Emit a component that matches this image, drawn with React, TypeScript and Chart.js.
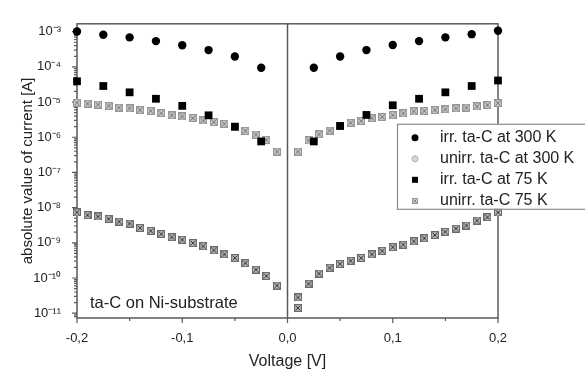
import React, { useEffect, useRef } from 'react';
import { Chart, registerables } from 'chart.js';

Chart.register(...registerables);

const FONT = '"Liberation Sans", Arial, Helvetica, sans-serif';
const TEXT = '#222';
const AXIS = '#5a5a5a';

// ---- data (voltage in V, |current| in A) ----
const voltsCoarse = [-0.2, -0.175, -0.15, -0.125, -0.1, -0.075, -0.05, -0.025, 0.025, 0.05, 0.075, 0.1, 0.125, 0.15, 0.175, 0.2];
const irr300K = [1.01e-3, 8.2e-4, 6.9e-4, 5.4e-4, 4.1e-4, 3.0e-4, 1.97e-4, 9.4e-5, 9.4e-5, 1.97e-4, 3.0e-4, 4.2e-4, 5.4e-4, 6.9e-4, 8.5e-4, 1.06e-3];
const irr75K = [3.9e-5, 2.86e-5, 1.89e-5, 1.24e-5, 7.8e-6, 4.2e-6, 2.0e-6, 7.6e-7, 7.6e-7, 2.09e-6, 4.3e-6, 8.1e-6, 1.24e-5, 1.89e-5, 2.86e-5, 4.1e-5];

const voltsFine = [
  -0.2, -0.19, -0.18, -0.17, -0.16, -0.15, -0.14, -0.13, -0.12, -0.11,
  -0.1, -0.09, -0.08, -0.07, -0.06, -0.05, -0.04, -0.03, -0.02, -0.01,
  0.01, 0.02, 0.03, 0.04, 0.05, 0.06, 0.07, 0.08, 0.09, 0.1,
  0.11, 0.12, 0.13, 0.14, 0.15, 0.16, 0.17, 0.18, 0.19, 0.2,
];
const unirr300K = [
  9.6e-6, 9.0e-6, 8.5e-6, 7.8e-6, 6.9e-6, 6.6e-6, 5.9e-6, 5.6e-6, 4.8e-6, 4.2e-6,
  3.9e-6, 3.5e-6, 3.0e-6, 2.7e-6, 2.4e-6, 1.96e-6, 1.52e-6, 1.19e-6, 8.4e-7, 3.9e-7,
  3.9e-7, 8.1e-7, 1.21e-6, 1.55e-6, 2.13e-6, 2.57e-6, 2.9e-6, 3.5e-6, 3.75e-6, 4.25e-6,
  4.8e-6, 5.4e-6, 5.6e-6, 5.9e-6, 6.2e-6, 6.6e-6, 7.0e-6, 7.5e-6, 8.2e-6, 9.3e-6,
];

const voltsLow = [
  -0.2, -0.19, -0.18, -0.17, -0.16, -0.15, -0.14, -0.13, -0.12, -0.11,
  -0.1, -0.09, -0.08, -0.07, -0.06, -0.05, -0.04, -0.03, -0.02, -0.01,
  0.01, 0.01, 0.02, 0.03, 0.04, 0.05, 0.06, 0.07, 0.08, 0.09, 0.1,
  0.11, 0.12, 0.13, 0.14, 0.15, 0.16, 0.17, 0.18, 0.19, 0.2,
];
const unirr75K = [
  7.3e-9, 6.1e-9, 5.6e-9, 4.8e-9, 4.0e-9, 3.5e-9, 2.65e-9, 2.19e-9, 1.77e-9, 1.44e-9,
  1.22e-9, 9.9e-10, 8.0e-10, 6.1e-10, 4.7e-10, 3.7e-10, 2.64e-10, 1.73e-10, 1.14e-10, 6.1e-11,
  2.8e-11, 1.4e-11, 6.9e-11, 1.34e-10, 1.96e-10, 2.52e-10, 3.1e-10, 3.7e-10, 4.7e-10, 5.9e-10, 7.5e-10,
  8.9e-10, 1.1e-9, 1.35e-9, 1.66e-9, 2.06e-9, 2.54e-9, 3.1e-9, 4.3e-9, 5.3e-9, 7.3e-9,
];

const seriesNames = ['irr. ta-C at 300 K', 'unirr. ta-C at 300 K', 'irr. ta-C at 75 K', 'unirr. ta-C 75 K'];

const xTickValues = [-0.2, -0.1, 0, 0.1, 0.2];
const xTickLabels = ['-0,2', '-0,1', '0,0', '0,1', '0,2'];
const xMinorTicks = [-0.15, -0.05, 0.05, 0.15];
const yDecades = [-11, -10, -9, -8, -7, -6, -5, -4, -3];
const yTickLabels = ['10⁻¹¹', '10⁻¹⁰', '10⁻⁹', '10⁻⁸', '10⁻⁷', '10⁻⁶', '10⁻⁵', '10⁻⁴', '10⁻³'];
const xTitle = 'Voltage [V]';
const yTitle = 'absolute value of current [A]';
const annotation = 'ta-C on Ni-substrate';
const X_MIN = -0.2;
const X_MAX = 0.2;
const Y_MIN = Math.pow(10, -11.137);
const Y_MAX = Math.pow(10, -2.776);

const pairs = (xs: number[], ys: number[]) => xs.map((x, i) => ({ x, y: ys[i] }));

function boxCross(size: number, fill: string, stroke: string, cross: string) {
  const c = document.createElement('canvas');
  c.width = size;
  c.height = size;
  const g = c.getContext('2d')!;
  g.fillStyle = fill;
  g.fillRect(0, 0, size, size);
  g.strokeStyle = stroke;
  g.lineWidth = 1;
  g.strokeRect(0.5, 0.5, size - 1, size - 1);
  g.beginPath();
  g.moveTo(1.5, 1.5);
  g.lineTo(size - 1.5, size - 1.5);
  g.moveTo(size - 1.5, 1.5);
  g.lineTo(1.5, size - 1.5);
  g.strokeStyle = cross;
  g.stroke();
  return c;
}

export default function App() {
  const ref = useRef<HTMLCanvasElement>(null);

  useEffect(() => {
    const canvas = ref.current;
    if (!canvas) return;
    const midMarker = boxCross(8, '#c4c4c4', '#959595', '#7a7a7a');
    const lowMarker = boxCross(8, '#b4b4b4', '#6a6a6a', '#3a3a3a');
    const legLow = boxCross(6, '#cfcfcf', '#999', '#888');

    const framePlugin = {
      id: 'frame',
      beforeDatasetsDraw(chart: any) {
        const { ctx, chartArea: a, scales } = chart;
        const x = scales.x;
        const y = scales.y;
        ctx.save();
        ctx.strokeStyle = AXIS;
        ctx.lineWidth = 1.5;
        ctx.strokeRect(a.left, a.top, a.right - a.left, a.bottom - a.top);
        const x0 = x.getPixelForValue(0);
        ctx.beginPath();
        ctx.moveTo(x0, a.top);
        ctx.lineTo(x0, a.bottom);
        ctx.stroke();
        ctx.lineWidth = 1.2;
        ctx.beginPath();
        for (const v of xTickValues) {
          const px = x.getPixelForValue(v);
          ctx.moveTo(px, a.bottom);
          ctx.lineTo(px, a.bottom + 5);
        }
        for (const v of xMinorTicks) {
          const px = x.getPixelForValue(v);
          ctx.moveTo(px, a.bottom);
          ctx.lineTo(px, a.bottom + 3);
        }
        for (let e = -12; e <= -2; e++) {
          for (let m = 1; m <= 9; m++) {
            const v = m * Math.pow(10, e);
            if (v < Y_MIN || v > Y_MAX) continue;
            const py = y.getPixelForValue(v);
            const len = m === 1 ? 5 : 3;
            ctx.moveTo(a.left - len, py);
            ctx.lineTo(a.left, py);
          }
        }
        ctx.stroke();
        ctx.restore();
      },
      afterDatasetsDraw(chart: any) {
        const { ctx, chartArea: a } = chart;
        ctx.save();
        // annotation
        ctx.fillStyle = TEXT;
        ctx.font = `16.5px ${FONT}`;
        ctx.textBaseline = 'middle';
        ctx.textAlign = 'left';
        ctx.fillText(annotation, a.left + 13, a.bottom - 15);
        // legend
        const lx = a.right - 101;
        const ly = a.top + 100;
        const lw = 200;
        const lh = 85;
        ctx.fillStyle = '#fff';
        ctx.fillRect(lx, ly, lw, lh);
        ctx.strokeStyle = '#8a8a8a';
        ctx.lineWidth = 1.2;
        ctx.strokeRect(lx + 0.5, ly + 0.5, lw, lh);
        const mx = lx + 18;
        chart.data.datasets.forEach((ds: any, i: number) => {
          const my = ly + 14 + i * 21;
          if (i === 0) {
            ctx.fillStyle = '#000';
            ctx.beginPath();
            ctx.arc(mx, my, 3.5, 0, Math.PI * 2);
            ctx.fill();
          } else if (i === 1) {
            ctx.fillStyle = '#d8d8d8';
            ctx.strokeStyle = '#b0b0b0';
            ctx.lineWidth = 1;
            ctx.beginPath();
            ctx.arc(mx, my, 3, 0, Math.PI * 2);
            ctx.fill();
            ctx.stroke();
          } else if (i === 2) {
            ctx.fillStyle = '#000';
            ctx.fillRect(mx - 3, my - 3, 6, 6);
          } else {
            ctx.drawImage(legLow, mx - 3, my - 3);
          }
          ctx.fillStyle = TEXT;
          ctx.font = `16px ${FONT}`;
          ctx.textBaseline = 'middle';
          ctx.fillText(ds.label, lx + 43, my);
        });
        ctx.restore();
      },
    };

    const chart = new Chart(canvas, {
      type: 'scatter',
      data: {
        datasets: [
          {
            label: seriesNames[0],
            data: pairs(voltsCoarse, irr300K),
            pointStyle: 'circle',
            pointRadius: 4.2,
            backgroundColor: '#000',
            borderColor: '#000',
            borderWidth: 0,
            order: 0,
            clip: false,
          },
          {
            label: seriesNames[1],
            data: pairs(voltsFine, unirr300K),
            pointStyle: midMarker as any,
            pointRadius: 4,
            backgroundColor: '#ccc',
            borderColor: '#aaa',
            order: 2,
            clip: false,
          },
          {
            label: seriesNames[2],
            data: pairs(voltsCoarse, irr75K),
            pointStyle: 'rect',
            pointRadius: 5.5,
            backgroundColor: '#000',
            borderColor: '#000',
            borderWidth: 0,
            order: 0,
            clip: false,
          },
          {
            label: seriesNames[3],
            data: pairs(voltsLow, unirr75K),
            pointStyle: lowMarker as any,
            pointRadius: 4,
            backgroundColor: '#999',
            borderColor: '#555',
            order: 2,
            clip: false,
          },
        ],
      },
      options: {
        animation: false,
        responsive: false,
        devicePixelRatio: 1,
        layout: { padding: { left: 0, right: 87, top: 12, bottom: 0 } },
        plugins: { legend: { display: false }, tooltip: { enabled: false } },
        scales: {
          x: {
            type: 'linear',
            min: X_MIN,
            max: X_MAX,
            grid: { display: false, drawTicks: false },
            border: { display: false },
            afterBuildTicks: (s: any) => {
              s.ticks = xTickValues.map((v) => ({ value: v }));
            },
            afterFit: (s: any) => {
              s.height = 56;
            },
            ticks: {
              autoSkip: false,
              maxRotation: 0,
              padding: 13,
              color: TEXT,
              font: { family: FONT, size: 13 },
              callback: (_v: any, i: number) => xTickLabels[i],
            },
            title: {
              display: true,
              text: xTitle,
              color: TEXT,
              font: { family: FONT, size: 16 },
              padding: { top: 0, bottom: 3 },
            },
          },
          y: {
            type: 'logarithmic',
            min: Y_MIN,
            max: Y_MAX,
            grid: { display: false, drawTicks: false },
            border: { display: false },
            afterBuildTicks: (s: any) => {
              s.ticks = yDecades.map((e) => ({ value: Math.pow(10, e), major: true }));
            },
            afterFit: (s: any) => {
              s.width = 77;
            },
            ticks: {
              autoSkip: false,
              padding: 16,
              color: TEXT,
              font: { family: FONT, size: 13 },
              callback: (_v: any, i: number) => yTickLabels[i],
            },
            title: {
              display: true,
              text: yTitle,
              color: TEXT,
              font: { family: FONT, size: 15 },
              padding: { top: 19, bottom: 0 },
            },
          },
        },
      },
      plugins: [framePlugin],
    } as any);

    return () => chart.destroy();
  }, []);

  return (
    <div style={{ position: 'fixed', left: 0, top: 0, width: 585, height: 374, background: '#fff' }}>
      <canvas ref={ref} width={585} height={374} style={{ display: 'block' }} />
    </div>
  );
}
